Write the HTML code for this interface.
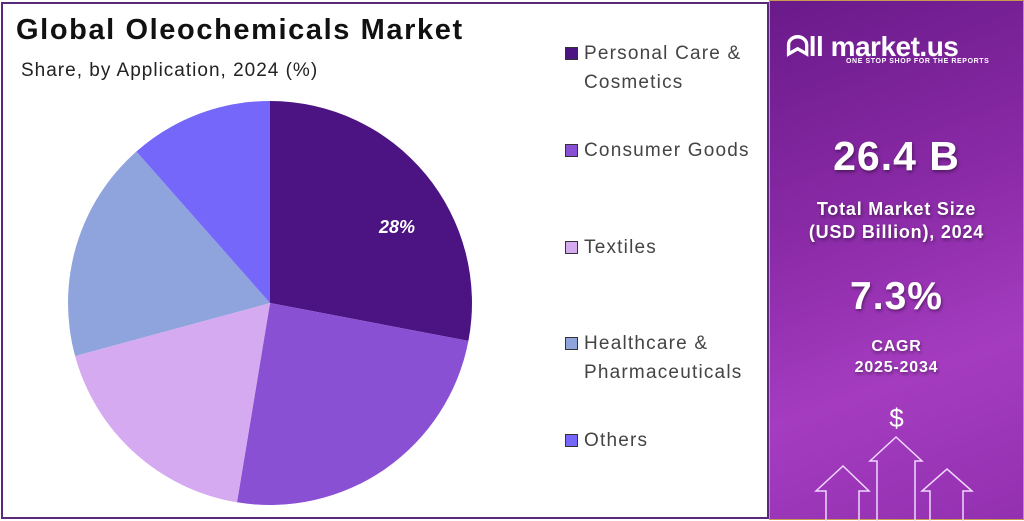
<!DOCTYPE html>
<html><head><meta charset="utf-8"><style>
body{margin:0;width:1024px;height:520px;background:#fff;position:relative;overflow:hidden;font-family:"Liberation Sans",sans-serif}
.left{position:absolute;left:1px;top:2px;width:764px;height:513px;border:2px solid #5a2a7a;background:#fff}
.right{position:absolute;left:769px;top:0;width:255px;height:520px;background:linear-gradient(160deg,#6a1a8a 0%,#8a2aa6 40%,#a53cc0 70%,#9330b0 100%);border:1px solid #c89a50;box-sizing:border-box;color:#fff;text-align:center}
.t{position:absolute;left:16px;top:14px;font-size:29px;font-weight:bold;color:#111;letter-spacing:1.6px}
.s{position:absolute;left:21px;top:60px;font-size:19px;color:#222;letter-spacing:1px}
.lg{position:absolute;left:565px;font-size:19px;color:#444;line-height:29px;letter-spacing:1.2px}
.lg i{position:absolute;left:0;top:8px;width:13px;height:13px;border:1px solid #333;box-sizing:border-box}
.lg span{display:block;padding-left:19px}
.big{position:absolute;left:0;width:100%;font-weight:bold;text-shadow:1px 2px 3px rgba(0,0,0,.4)}
</style></head><body>
<div class="left"></div>
<div class="t">Global Oleochemicals Market</div>
<div class="s">Share, by Application, 2024 (%)</div>
<svg style="position:absolute;left:0;top:0" width="770" height="520">
<path d="M270,303 L270,101 A202,202 0 0 1 468.4,340.9Z" fill="#4c1382"/>
<path d="M270,303 L468.4,340.9 A202,202 0 0 1 237,502.3Z" fill="#8a50d4"/>
<path d="M270,303 L237,502.3 A202,202 0 0 1 75.1,356Z" fill="#d5aaf0"/>
<path d="M270,303 L75.1,356 A202,202 0 0 1 136.4,151.5Z" fill="#8fa3dc"/>
<path d="M270,303 L136.4,151.5 A202,202 0 0 1 270,101Z" fill="#7467fa"/>
<text x="397" y="233" fill="#fff" font-size="18" font-weight="bold" font-style="italic" text-anchor="middle" font-family="Liberation Sans">28%</text>
</svg>
<div class="lg" style="top:39px"><i style="background:#4c1382"></i><span>Personal Care &amp;<br>Cosmetics</span></div>
<div class="lg" style="top:136px"><i style="background:#8a50d4"></i><span>Consumer Goods</span></div>
<div class="lg" style="top:233px"><i style="background:#d5aaf0"></i><span>Textiles</span></div>
<div class="lg" style="top:329px"><i style="background:#8fa3dc"></i><span>Healthcare &amp;<br>Pharmaceuticals</span></div>
<div class="lg" style="top:426px"><i style="background:#7467fa"></i><span>Others</span></div>
<div class="right">
<div style="position:absolute;left:16px;top:30px;font-size:28px;font-weight:bold;letter-spacing:-0.5px;white-space:nowrap">ᗣll market.us</div>
<div style="position:absolute;left:76px;top:57px;font-size:7px;font-weight:bold;letter-spacing:0.6px;white-space:nowrap">ONE STOP SHOP FOR THE REPORTS</div>
<div class="big" style="top:132px;font-size:41px;letter-spacing:1px">26.4 B</div>
<div class="big" style="top:197px;font-size:18px;line-height:23px;letter-spacing:0.8px">Total Market Size<br>(USD Billion), 2024</div>
<div class="big" style="top:274px;font-size:39px;letter-spacing:1px">7.3%</div>
<div class="big" style="top:335px;font-size:16px;line-height:21px;letter-spacing:0.8px">CAGR<br>2025-2034</div>
<div style="position:absolute;left:0;width:100%;top:402px;font-size:26px">$</div>
<svg style="position:absolute;left:0;top:430px" width="255" height="90" fill="none" stroke="#f0d8ff" stroke-width="1.5">
<path d="M56,90 V60 H46 L73,35 L99,60 H89 V90"/>
<path d="M107,90 V30 H100 L126,6 L152,30 H145 V90"/>
<path d="M160,90 V60 H152 L177,38 L202,60 H193 V90"/>
</svg>
</div>
</body></html>
